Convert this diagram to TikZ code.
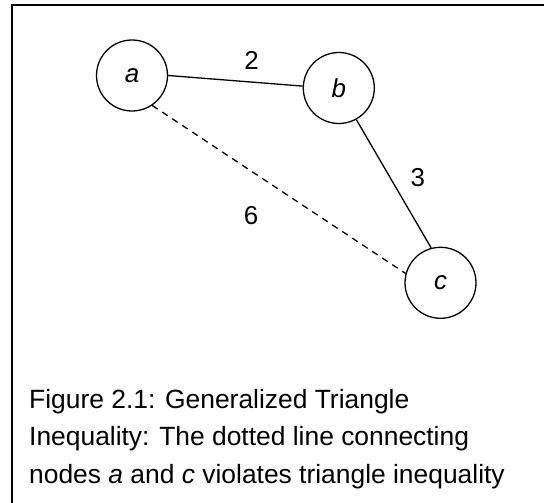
\documentclass[tikz,border=0pt]{standalone}
\usepackage{fontspec}
\setmainfont{Liberation Sans}

\begin{document}
\begin{tikzpicture}[x=1bp,y=-1bp,
    vertex/.style={draw,circle,line width=1.3bp,minimum size=71bp,inner sep=0pt},
    weight/.style={inner sep=0pt},
    font=\fontsize{26}{31}\selectfont]
  \useasboundingbox (0,0) rectangle (544,503);
  % only the top and the left side of the frame are printed
  \draw[line width=2bp] (12,503) -- (12,5.3) -- (544,5.3);

  \node[vertex] (a) at (132,75.5) {\textit{a}};
  \node[vertex] (b) at (338.8,88) {\textit{b}};
  \node[vertex] (c) at (440.5,282.8) {\textit{c}};

  \draw[line width=1.3bp] (a.east) -- (b.177) node[weight,pos=.62,above=12bp] (wab) {2};
  \draw[line width=1.3bp] (b.-61) -- (c.105) node[weight,pos=.45,right=20bp] (wbc) {3};
  \draw[line width=1.3bp,dash pattern=on 6.5bp off 5.5bp] (a.-56) -- (c.165)
    node[weight,pos=.39,below=35bp] (wac) {6};

  \node[anchor=base west,align=left,inner sep=0pt,font=\fontsize{26.5}{31}\selectfont] (caption)
    at (29,483) {Figure 2.1: Generalized Triangle\\[6.5bp]Inequality: The dotted line connecting\\[6.5bp]nodes \textit{a} and \textit{c} violates triangle inequality};
\end{tikzpicture}
\end{document}
